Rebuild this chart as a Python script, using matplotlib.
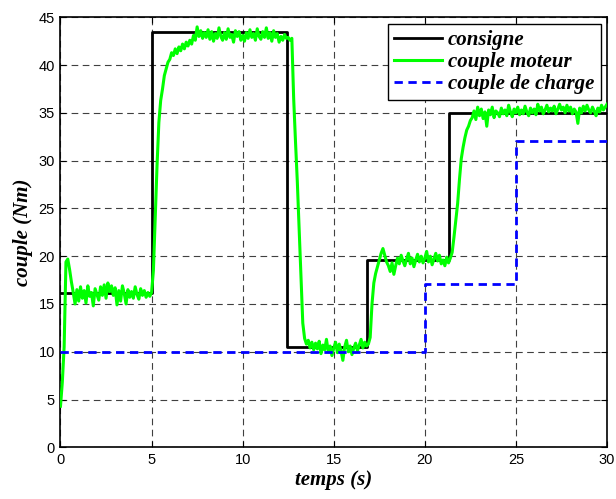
import numpy as np
import matplotlib
matplotlib.use("Agg")
import matplotlib.pyplot as plt

# --- consigne (step reference) ---
t_consigne = [0, 5, 5, 12.45, 12.45, 16.8, 16.8, 21.3, 21.3, 30]
v_consigne = [16.1, 16.1, 43.5, 43.5, 10.5, 10.5, 19.6, 19.6, 35.0, 35.0]

# --- couple de charge (load torque) ---
t_charge = [0, 20, 20, 25, 25, 30]
v_charge = [10, 10, 17.1, 17.1, 32.1, 32.1]

# --- couple moteur, sampled every 0.1 s from 0 to 30 s ---
v_moteur = [
    4.3, 6.8, 10.5, 19.4, 19.7, 18.6, 17.3, 16.2, 15.0, 16.5,
    15.3, 16.8, 15.6, 16.4, 15.1, 16.9, 15.8, 16.2, 14.8, 16.6,
    16.0, 15.4, 16.8, 15.9, 17.0, 15.6, 17.2, 16.3, 16.9, 15.9,
    16.7, 14.9, 16.4, 15.3, 16.9, 16.1, 15.0, 16.5, 15.7, 16.3,
    15.6, 16.8, 16.0, 15.5, 16.6, 15.9, 16.4, 15.7, 16.2, 15.8,
    16.2, 18.5, 24.0, 29.5, 34.0, 36.3, 37.5, 38.9, 39.6, 40.3,
    40.6, 41.3, 41.0, 41.7, 41.2, 41.9, 41.5, 42.2, 41.7, 42.4,
    42.0, 42.6, 42.2, 43.1, 42.6, 44.0, 43.0, 43.6, 42.8, 43.4,
    42.9, 43.7, 42.7, 43.5, 42.5, 43.3, 42.8, 43.9, 43.0, 42.6,
    43.4, 42.7, 43.8, 42.9, 43.2, 42.4, 43.6, 43.0, 43.5, 42.6,
    43.1, 42.5, 43.4, 42.8, 43.7, 42.9, 43.3, 42.6, 43.8, 43.0,
    42.7, 43.5, 42.9, 43.9, 42.8, 43.4, 42.5, 43.6, 42.9, 43.3,
    42.4, 43.0, 42.6, 43.2, 42.8, 42.9, 42.6, 42.8, 36.5, 32.0,
    27.8, 22.8, 18.0, 13.0, 11.4, 10.8, 11.2, 10.4, 11.0, 10.2,
    10.9, 10.3, 11.1, 9.8, 10.7, 10.2, 11.3, 10.0, 10.6, 9.6,
    10.4, 11.0, 9.9, 10.8, 10.1, 9.1, 10.5, 11.2, 10.0, 10.6,
    9.7, 10.4, 10.9, 10.1, 10.7, 11.3, 10.4, 11.0, 10.6, 10.8,
    11.5, 15.0, 17.2, 18.2, 18.9, 19.6, 20.3, 20.8, 20.1, 19.4,
    19.0, 18.4, 19.3, 18.1, 19.0, 19.8, 19.2, 20.1, 19.5, 19.0,
    19.7, 20.3, 19.2, 19.8, 18.9, 19.6, 20.2, 19.4, 20.0, 19.3,
    19.8, 20.5, 19.4, 20.0, 19.1, 19.7, 20.3, 19.5, 20.1, 19.2,
    19.6, 19.0, 19.9, 19.3, 19.8, 20.4, 22.0, 23.8, 25.5, 28.0,
    30.2, 31.4, 32.4, 33.2, 33.6, 34.2, 34.5, 35.2, 34.3, 35.6,
    34.7, 35.4, 34.4, 35.1, 33.6, 35.3, 34.8, 35.6, 34.5, 35.2,
    35.0, 34.6, 35.5, 34.9, 35.3, 34.7, 35.8, 35.1, 34.6, 35.4,
    35.0, 35.6, 34.8, 35.3, 34.9, 35.7, 35.1, 34.7, 35.5, 35.0,
    35.4, 34.8, 35.9, 35.2, 35.6, 34.9, 35.3, 35.8, 35.1, 35.5,
    35.2, 35.7, 34.9, 35.4, 35.9, 35.3, 35.6, 35.0, 35.8, 35.2,
    35.6, 34.9, 35.4, 35.1, 33.9, 35.5, 35.0, 35.7, 35.2, 35.8,
    35.3, 35.0, 35.6, 35.2, 34.7, 35.5, 35.1, 35.8, 35.3, 35.6,
    35.9,
]
t_moteur = np.round(np.arange(len(v_moteur)) * 0.1, 2)

x_ticks = [0, 5, 10, 15, 20, 25, 30]
y_ticks = [0, 5, 10, 15, 20, 25, 30, 35, 40, 45]

labels = ["consigne", "couple moteur", "couple de charge"]

fig = plt.figure(figsize=(6.16, 4.99), dpi=100)
ax = fig.add_axes([0.0982, 0.1036, 0.8872, 0.8617])

ax.plot(t_consigne, v_consigne, color="black", lw=2.0, label=labels[0], zorder=3)
ax.plot(t_moteur, v_moteur, color="#00ff00", lw=2.2, label=labels[1], zorder=4)
ax.plot(t_charge, v_charge, color="#0000ff", lw=2.0, ls=(0, (3, 2)), label=labels[2], zorder=5)

ax.set_xlim(0, 30)
ax.set_ylim(0, 45)
ax.set_xticks(x_ticks)
ax.set_yticks(y_ticks)
ax.grid(True, color="#404040", ls=(0, (6, 4)), lw=0.8)
ax.set_axisbelow(True)
ax.tick_params(direction="in", length=4, width=0.8, top=True, right=True,
               labelsize=10.5, pad=4)
for lbl in ax.get_xticklabels() + ax.get_yticklabels():
    lbl.set_fontfamily("Liberation Sans")
for s in ax.spines.values():
    s.set_linewidth(1.2)

lab_font = dict(family="Liberation Serif", style="italic", weight="bold", size=15)
ax.set_xlabel("temps (s)", fontdict=lab_font, labelpad=2)
ax.set_ylabel("couple (Nm)", fontdict=lab_font, labelpad=4)

leg = ax.legend(loc="upper right", bbox_to_anchor=(1.0, 1.0), borderaxespad=0.3,
                prop=dict(family="Liberation Serif", style="italic", weight="bold", size=15),
                handlelength=2.3, handletextpad=0.3, borderpad=0.3, labelspacing=0.1,
                fancybox=False, edgecolor="black", framealpha=1)
leg.get_frame().set_linewidth(1.0)

fig.savefig("out.png", dpi=100)
